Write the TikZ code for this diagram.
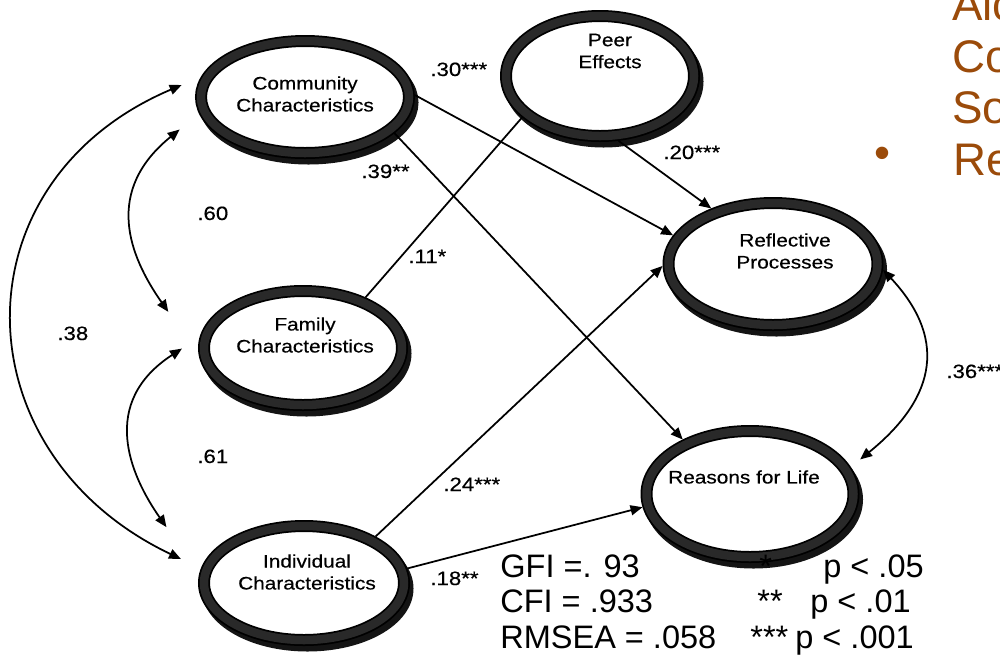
\documentclass[tikz,border=0pt]{standalone}
\usepackage{fontspec}
\setmainfont{Liberation Sans}
\newfontfamily\diagfont{Liberation Sans}[FakeStretch=1.15,FakeBold=0.4]
\usetikzlibrary{arrows.meta,shapes.geometric}
\definecolor{slidebrown}{RGB}{155,75,10}
\tikzset{
  ring/.style={ellipse, draw=black, line width=0.035cm, double=black!84, double distance=0.17cm,
    fill=white, inner sep=0pt, outer sep=0.12cm},
  ringshadow/.style={ellipse, draw=black!92, line width=0.24cm, inner sep=0pt},
  ringtext/.style={font=\diagfont\fontsize{10.3}{12.5}\selectfont, align=center, inner sep=0pt},
  coef/.style={font=\diagfont\fontsize{11}{13}\selectfont, anchor=base west, inner sep=0pt},
  stat/.style={font=\fontsize{18.5}{22}\selectfont, anchor=base west, inner sep=0pt},
  slide/.style={font=\fontsize{26}{30}\selectfont, text=slidebrown, anchor=base west, inner sep=0pt},
  path/.style={line width=0.035cm, -{Triangle[length=0.24cm,width=0.2cm]}},
  corr/.style={line width=0.035cm, {Triangle[length=0.24cm,width=0.2cm]}-{Triangle[length=0.24cm,width=0.2cm]}},
}
\newcommand{\ringnode}[5]{%
  \node[ringshadow, minimum width=#4cm, minimum height=#5cm, xshift=0.07cm, yshift=-0.11cm] at (#2,#3) {};
  \node[ring, minimum width=#4cm, minimum height=#5cm] (#1) at (#2,#3) {};
}
\begin{document}
\begin{tikzpicture}
\useasboundingbox (0,0) rectangle (20,-13.12);
\clip (0,0) rectangle (20,-13.12);
\fill[white] (0,0) rectangle (20,-13.12);

% latent variables
\ringnode{comm}{6.10}{-1.94}{4.16}{2.24}
\ringnode{peer}{12.00}{-1.52}{3.76}{2.40}
\ringnode{fam}{6.06}{-6.96}{3.96}{2.28}
\ringnode{indiv}{6.08}{-11.66}{4.00}{2.28}
\ringnode{refl}{15.46}{-5.28}{4.18}{2.44}
\ringnode{reas}{15.00}{-9.88}{4.14}{2.52}

\node[ringtext] (commT) at (6.10,-1.88) {Community\\Characteristics};
\node[ringtext] (peerT) at (12.20,-1.02) {Peer\\Effects};
\node[ringtext] (reflT) at (15.70,-5.02) {Reflective\\Processes};
\node[ringtext] (famT) at (6.10,-6.70) {Family\\Characteristics};
\node[ringtext] (indivT) at (6.14,-11.44) {Individual\\Characteristics};
\node[ringtext] (reasT) at (14.88,-9.54) {Reasons for Life};

% paths
\draw[path] (comm.1) -- (refl.164);
\draw[path] (comm.-22) -- (reas.141);
\draw[path] (peer.-74) -- (refl.138);
\draw[line width=0.035cm] (fam.39) -- (peer.208);
\draw[path] (indiv.33) -- (refl.181);
\draw[path] (indiv.8) -- (reas.187);

% correlations
\draw[corr, shorten <=0.50cm, shorten >=1.06cm] (comm.189) to[out=219, in=125, looseness=1.3] (fam.184);
\draw[corr, shorten <=0.42cm, shorten >=1.14cm] (fam.174) to[out=213, in=125, looseness=1.3] (indiv.175);
\draw[corr, shorten <=0.42cm, shorten >=0.44cm] (comm.169) to[out=203, in=154.5, looseness=1.4] (indiv.172);
\draw[corr, shorten >=0.24cm] (refl.-3.5) to[out=-47, in=39, looseness=1.3] (reas.15.5);

% coefficients
\node[coef] (c30) at (8.60,-1.52) {.30***};
\node[coef] (c39) at (7.22,-3.56) {.39**};
\node[coef] (c11) at (8.16,-5.26) {.11*};
\node[coef] (c20) at (13.26,-3.18) {.20***};
\node[coef] (c60) at (3.94,-4.40) {.60};
\node[coef] (c38) at (1.14,-6.80) {.38};
\node[coef] (c61) at (3.94,-9.26) {.61};
\node[coef] (c24) at (8.86,-9.82) {.24***};
\node[coef] (c18) at (8.60,-11.70) {.18**};
\node[coef] (c36) at (18.92,-7.56) {.36***};

% fit statistics
\node[stat] (gfi) at (10.00,-11.54) {GFI =. 93};
\node[stat] (s1) at (15.18,-11.54) {*};
\node[stat] (p1) at (16.46,-11.54) {p < .05};
\node[stat] (cfi) at (10.00,-12.24) {CFI = .933};
\node[stat] (s2) at (15.14,-12.24) {**};
\node[stat] (p2) at (16.20,-12.24) {p < .01};
\node[stat] (rmsea) at (10.00,-12.96) {RMSEA = .058};
\node[stat] (s3) at (15.00,-12.96) {***};
\node[stat] (p3) at (15.90,-12.96) {p < .001};

% slide text cut at the edge
\node[slide] (t1) at (19.04,-0.40) {Alc};
\node[slide] (t2) at (19.04,-1.44) {Co};
\node[slide] (t3) at (19.04,-2.46) {So};
\node[slide] (t4) at (19.06,-3.50) {Re};
\node[font=\fontsize{26}{30}\selectfont, text=slidebrown, inner sep=0pt] (bul) at (17.64,-3.16) {•};
\end{tikzpicture}
\end{document}
